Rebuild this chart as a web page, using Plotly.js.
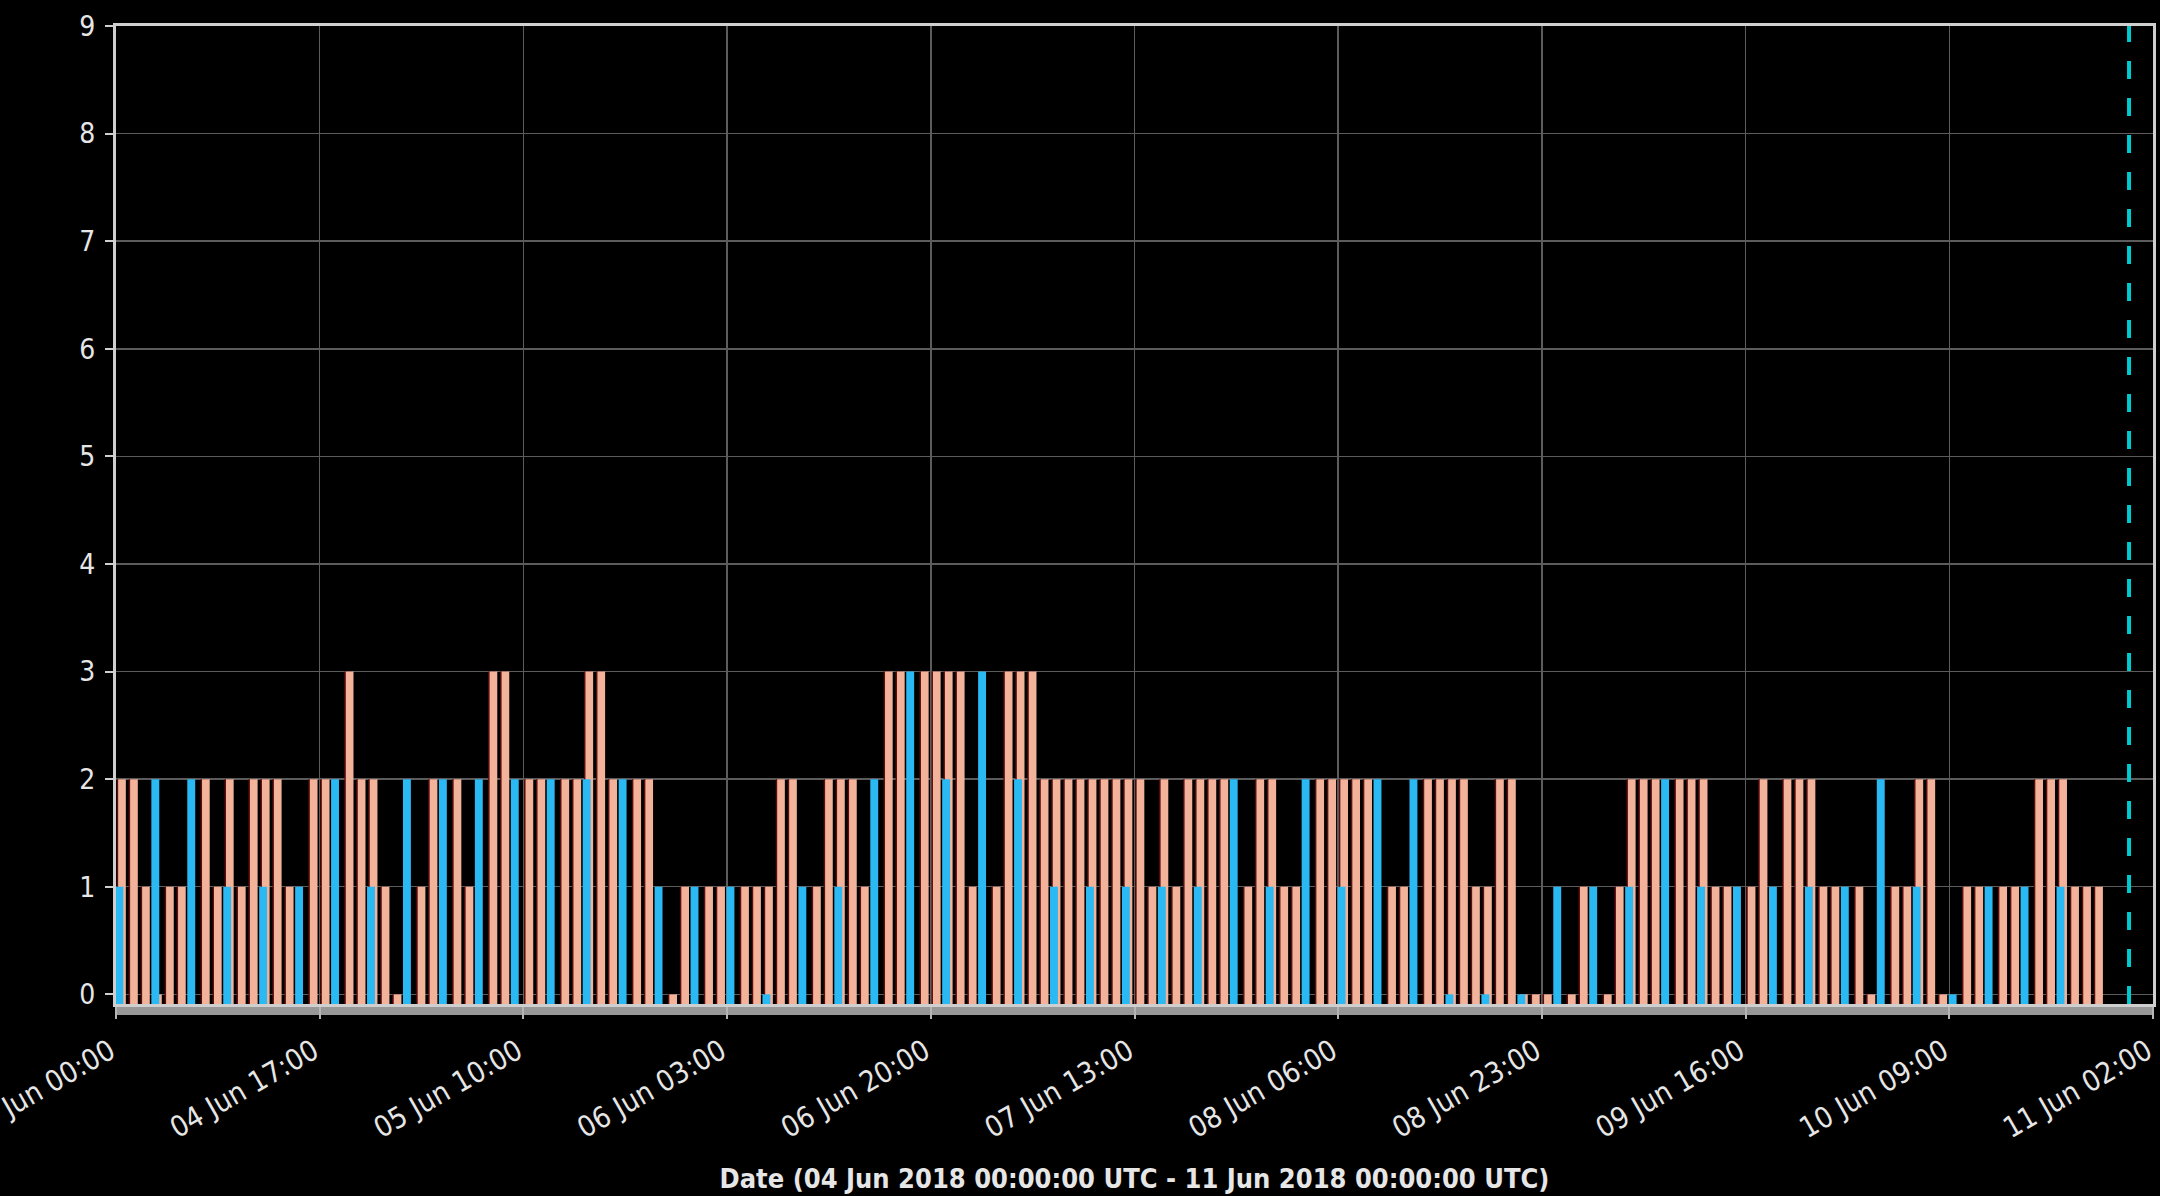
<!DOCTYPE html>
<html>
<head>
<meta charset="utf-8">
<script src="https://cdn.plot.ly/plotly-3.0.1.min.js"></script>
<style>
  html, body { margin: 0; padding: 0; background: #000; }
  #chart { width: 2160px; height: 1196px; }
</style>
</head>
<body>
<div id="chart"></div>
<script>
// ---------------- data ----------------
const startTime = '2018-06-04T00:00:00Z';           // first hourly bin
const hourlyCounts = [
  2, 2, 1, 0, 1, 1, null, 2, 1, 2,
  1, 2, 2, 2, 1, null, 2, 2, null, 3,
  2, 2, 1, 0, null, 1, 2, null, 2, 1,
  null, 3, 3, null, 2, 2, null, 2, 2, 3,
  3, 2, null, 2, 2, null, 0, 1, null, 1,
  1, null, 1, 1, 1, 2, 2, null, 1, 2,
  2, 2, 1, null, 3, 3, null, 3, 3, 3,
  3, 1, null, 1, 3, 3, 3, 2, 2, 2,
  2, 2, 2, 2, 2, 2, 1, 2, 1, 2,
  2, 2, 2, null, 1, 2, 2, 1, 1, null,
  2, 2, 2, 2, 2, null, 1, 1, null, 2,
  2, 2, 2, 1, 1, 2, 2, 0, 0, 0,
  null, 0, 1, null, 0, 1, 2, 2, 2, null,
  2, 2, 2, 1, 1, null, 1, 2, null, 2,
  2, 2, 1, 1, null, 1, 0, null, 1, 1,
  2, 2, 0, null, 1, 1, null, 1, 1, null,
  2, 2, 2, 1, 1, 1
];
const threeHourlyCounts = [
  1, 2, 2, 1, 1, 1, 2, 1, 2, 2,
  2, 2, 2, 2, 2, 1, 1, 1, 0, 1,
  1, 2, 3, 2, 3, 2, 1, 1, 1, 1,
  1, 2, 1, 2, 1, 2, 2, 0, 0, 0,
  1, 1, 1, 2, 1, 1, 1, 1, 1, 2,
  1, 0, 1, 1, 1
];
const markerTime = '2018-06-11 00:00';
const xRange = ['2018-06-04 00:00', '2018-06-11 02:00'];
const yTop = 9;
const titleText = 'Date (04 Jun 2018 00:00:00 UTC - 11 Jun 2018 00:00:00 UTC)';

// ---------------- helpers ----------------
const HOUR = 3600000;
const t0 = Date.parse(startTime);
function stamp(h) { return new Date(t0 + h * HOUR).toISOString().slice(0, 16).replace('T', ' '); }
const hourlyX = hourlyCounts.map((_, i) => stamp(i));
const threeX = threeHourlyCounts.map((_, i) => stamp(i * 3));
const BASE = -0.09;                       // bars start at the bottom of the frame
const lift = v => (v === null ? null : v - BASE);

const FONT = 'DejaVu Sans Condensed, DejaVu Sans, sans-serif';
const TXT = '#e6e6e6';

const traces = [
  { // dark left edge of the salmon bars
    type: 'bar', x: hourlyX, y: hourlyCounts.map(lift), base: BASE,
    width: 0.64 * HOUR, offset: 0.06 * HOUR,
    marker: { color: '#5e0d0d', line: { width: 0 } }, hoverinfo: 'skip'
  },
  {
    type: 'bar', name: 'hourly', x: hourlyX, y: hourlyCounts.map(lift), base: BASE,
    width: 0.64 * HOUR, offset: 0.18 * HOUR,
    marker: { color: '#f3b39b', line: { width: 0 } }
  },
  {
    type: 'bar', name: '3-hourly', x: threeX, y: threeHourlyCounts.map(lift), base: BASE,
    width: 0.66 * HOUR, offset: -0.05 * HOUR,
    marker: { color: '#2bb9f4', line: { width: 0 } }
  }
];

const layout = {
  width: 2160, height: 1196,
  paper_bgcolor: '#000', plot_bgcolor: '#000',
  margin: { l: 116, r: 7, t: 26, b: 192 },
  barmode: 'overlay', showlegend: false,
  font: { family: FONT, color: TXT, size: 28 },
  xaxis: {
    type: 'date', range: xRange, tick0: xRange[0], dtick: 17 * HOUR,
    tickformat: '%d %b %H:%M', tickangle: -30, ticklabeloverflow: 'allow',
    ticklabelstandoff: 4, ticklabelshift: -6,
    showgrid: true, gridcolor: '#5c5c5c', gridwidth: 1.5, zeroline: false,
    showline: true, linecolor: '#cfcfcf', linewidth: 3, mirror: true,
    ticks: 'outside', ticklen: 12, tickwidth: 2, tickcolor: '#b5b5b5',
    tickfont: { family: FONT, size: 29, color: TXT },
    title: { text: titleText, standoff: 26,
             font: { family: FONT, size: 27, color: TXT, weight: 'bold' } }
  },
  yaxis: {
    range: [BASE, yTop], tick0: 0, dtick: 1,
    showgrid: true, gridcolor: '#5c5c5c', gridwidth: 1.5, zeroline: false,
    showline: true, linecolor: '#cfcfcf', linewidth: 3, mirror: true,
    ticks: 'outside', ticklen: 8, tickwidth: 2, tickcolor: '#cfcfcf',
    ticklabelstandoff: 4,
    tickfont: { family: FONT, size: 28, color: TXT }
  },
  shapes: [
    { type: 'rect', xref: 'paper', yref: 'paper', x0: 0, x1: 1,
      ysizemode: 'pixel', yanchor: 0, y0: -2, y1: -11,
      fillcolor: '#979797', line: { width: 0 }, layer: 'below' },
    { type: 'line', xref: 'x', yref: 'paper', x0: markerTime, x1: markerTime, y0: 0, y1: 1,
      line: { color: '#00c9cf', width: 4, dash: '18px,19px' } }
  ]
};

Plotly.newPlot('chart', traces, layout, { staticPlot: true, displayModeBar: false });
</script>
</body>
</html>
